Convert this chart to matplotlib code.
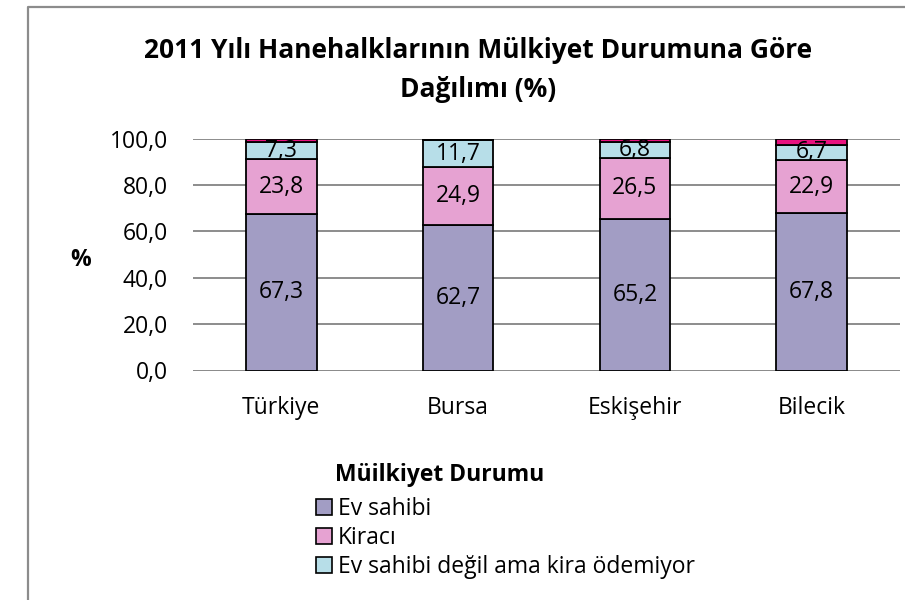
import matplotlib.pyplot as plt
from matplotlib.lines import Line2D
from matplotlib.patches import Patch

# Data
regions = ["Türkiye", "Bursa", "Eskişehir", "Bilecik"]
ev_sahibi = [67.3, 62.7, 65.2, 67.8]
kiraci = [23.8, 24.9, 26.5, 22.9]
kira_odemiyor = [7.3, 11.7, 6.8, 6.7]
diger = [1.6, 0.7, 1.5, 2.6]

series_names = ["Ev sahibi", "Kiracı", "Ev sahibi değil ama kira ödemiyor"]
c_ev = "#A29DC4"
c_kira = "#E6A2D2"
c_odemiyor = "#B7DEE8"
c_diger = "#E8127F"

plt.rcParams["font.family"] = ["Open Sans", "DejaVu Sans"]
fs = 16.5

fig = plt.figure(figsize=(9.05, 6.0), dpi=100)
ax = fig.add_axes([193 / 905, 1 - 370.5 / 600, 707 / 905, 232 / 600])

x = range(len(regions))
bw = 0.40
bottom = [0] * len(regions)
for vals, col, show in [(ev_sahibi, c_ev, True), (kiraci, c_kira, True),
                        (kira_odemiyor, c_odemiyor, True), (diger, c_diger, False)]:
    ax.bar(x, vals, bw, bottom=bottom, color=col, edgecolor="black",
           linewidth=1.3, zorder=3)
    if show:
        for xi, v, b in zip(x, vals, bottom):
            ax.text(xi, b + v / 2, f"{v:.1f}".replace(".", ","), ha="center",
                    va="center", fontsize=fs, zorder=4)
    bottom = [b + v for b, v in zip(bottom, vals)]

ax.set_ylim(0, 100)
ax.set_xlim(-0.5, len(regions) - 0.5)
ax.set_yticks(range(0, 101, 20))
ax.set_yticklabels([f"{t:.1f}".replace(".", ",") for t in range(0, 101, 20)],
                   fontsize=fs)
ax.set_xticks(list(x))
ax.set_xticklabels(regions, fontsize=fs)
ax.tick_params(axis="y", length=0, pad=18)
ax.tick_params(axis="x", length=0, pad=18)
ax.grid(axis="y", color="#8c8c8c", linewidth=1.4, zorder=0)
for s in ["top", "right", "bottom", "left"]:
    ax.spines[s].set_visible(False)
ax.axhline(0, color="#8c8c8c", linewidth=1.4, zorder=2)

fig.text(81 / 905, 1 - 260 / 600, "%", fontsize=fs, fontweight="bold",
         ha="center", va="center")
fig.text(478 / 905, 1 - 70 / 600,
         "2011 Yılı Hanehalklarının Mülkiyet Durumuna Göre\nDağılımı (%)",
         fontsize=19, fontweight="bold", ha="center", va="center",
         linespacing=1.55)

# legend (title placed by hand, it sits left of centre in the original)
fig.text(335 / 905, 1 - 475 / 600, "Müilkiyet Durumu", fontsize=fs,
         fontweight="bold", ha="left", va="center")
handles = [Patch(facecolor=c, edgecolor="black", linewidth=1.2)
           for c in (c_ev, c_kira, c_odemiyor)]
fig.legend(handles, series_names, loc="upper left",
           bbox_to_anchor=(316 / 905, 1 - 497 / 600), frameon=False,
           fontsize=fs, handlelength=0.7, handleheight=0.7, handletextpad=0.25,
           labelspacing=0.22, borderaxespad=0, borderpad=0)

# chart frame (only top and left edges fall inside the picture)
fig.add_artist(Line2D([28 / 905, 28 / 905, 1], [0, 1 - 7 / 600, 1 - 7 / 600],
                      transform=fig.transFigure, color="#8c8c8c", linewidth=1.6))

fig.savefig("out.png", dpi=100)
